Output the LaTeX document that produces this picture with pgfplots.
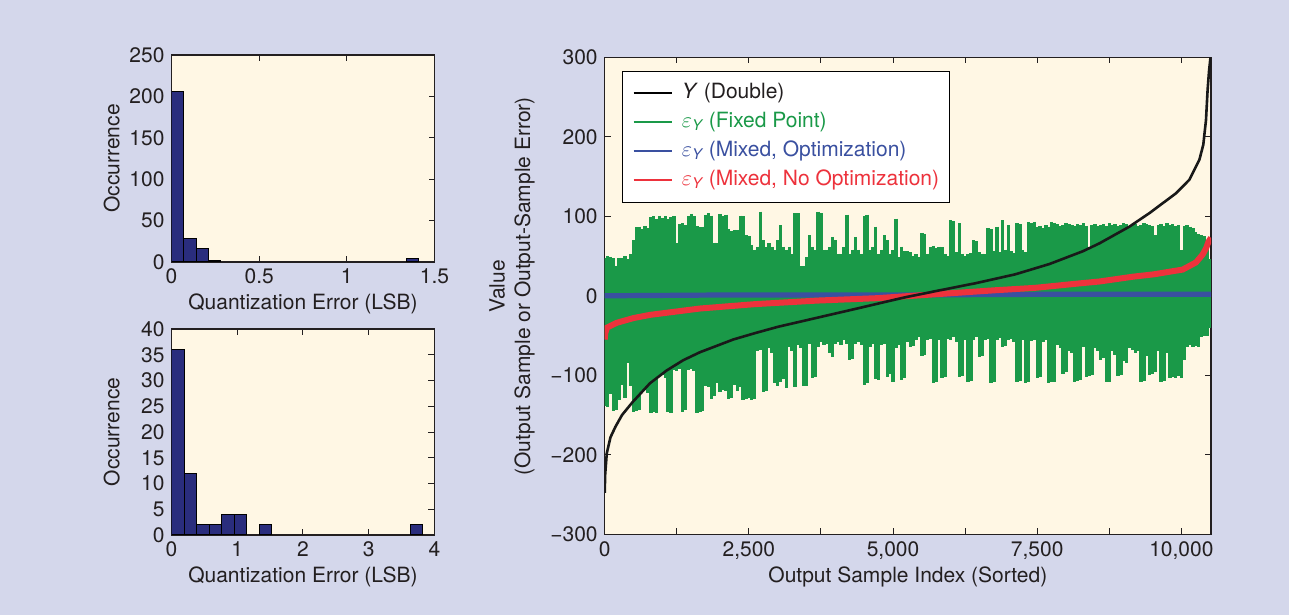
\documentclass[border=0pt]{standalone}
\usepackage{pgfplots}
\pgfplotsset{compat=1.18}
\usepackage{pgfplotstable}
\usepackage{fontspec}
\setmainfont{TeX Gyre Heros}

\definecolor{bglav}{RGB}{212,215,235}
\definecolor{cream}{RGB}{255,247,228}
\definecolor{navy}{RGB}{42,45,125}
\definecolor{fgreen}{RGB}{26,153,72}
\definecolor{mblue}{RGB}{58,80,160}
\definecolor{mred}{RGB}{237,50,60}
\definecolor{txt}{RGB}{35,31,32}

\pgfplotsset{
  matlab/.style={
    scale only axis, anchor=south west,
    axis background/.style={fill=cream},
    axis line style={line width=0.6pt, txt},
    tick style={line width=0.5pt, txt},
    major tick length=3pt, tick align=inside, tick pos=both,
    font=\fontsize{10.5}{12.6}\selectfont,
    /pgf/number format/assume math mode=true,
    tick label style={text=txt}, label style={text=txt},
  },
}

% fixed point error band: upper and lower edge every 50 samples
\pgfplotstableread{
x top bot
0 48 -139
50 50 -140
100 49 -124
150 47 -145
200 38 -144
250 48 -131
300 47 -112
350 50 -128
400 46 -85
450 52 -114
500 70 -146
550 86 -145
600 87 -144
650 84 -120
700 88 -119
750 85 -122
800 99 -147
850 100 -146
900 97 -148
950 101 -101
1000 98 -100
1050 100 -104
1100 96 -146
1150 99 -147
1200 100 -93
1250 66 -95
1300 90 -92
1350 91 -146
1400 89 -144
1450 101 -93
1500 103 -92
1550 100 -95
1600 88 -147
1650 86 -146
1700 87 -145
1750 102 -113
1800 104 -115
1850 101 -130
1900 67 -126
1950 66 -110
2000 103 -121
2050 100 -118
2100 102 -120
2150 84 -130
2200 82 -128
2250 83 -112
2300 83 -120
2350 101 -115
2400 100 -131
2450 76 -130
2500 75 -128
2550 64 -131
2600 58 -130
2650 62 -70
2700 106 -68
2750 70 -121
2800 62 -120
2850 66 -66
2900 62 -72
2950 58 -110
3000 70 -114
3050 89 -108
3100 62 -105
3150 58 -116
3200 62 -64
3250 53 -70
3300 104 -115
3350 104 -62
3400 37 -66
3450 37 -114
3500 49 -113
3550 76 -60
3600 62 -103
3650 58 -102
3700 106 -64
3750 104 -58
3800 58 -62
3850 58 -60
3900 62 -72
3950 74 -77
4000 70 -60
4050 53 -58
4100 53 -62
4150 62 -56
4200 102 -60
4250 53 -81
4300 58 -80
4350 74 -60
4400 58 -58
4450 53 -62
4500 100 -112
4550 102 -110
4600 58 -64
4650 62 -60
4700 87 -105
4750 53 -106
4800 58 -62
4850 76 -60
4900 70 -102
4950 53 -98
5000 58 -108
5050 97 -66
5100 49 -62
5150 62 -106
5200 56 -104
5250 56 -58
5300 55 -64
5350 50 -63
5400 52 -55
5450 49 -52
5500 79 -76
5550 78 -75
5600 53 -55
5650 62 -54
5700 63 -110
5750 60 -108
5800 62 -56
5850 61 -104
5900 52 -102
5950 50 -54
6000 95 -56
6050 94 -52
6100 55 -58
6150 91 -102
6200 53 -101
6250 50 -55
6300 52 -108
6350 54 -107
6400 70 -55
6450 69 -52
6500 55 -77
6550 53 -76
6600 52 -56
6650 85 -54
6700 84 -110
6750 56 -109
6800 87 -55
6850 55 -53
6900 95 -64
6950 58 -63
7000 89 -56
7050 56 -54
7100 54 -58
7150 91 -108
7200 90 -107
7250 57 -56
7300 55 -110
7350 93 -109
7400 92 -57
7450 93 -55
7500 86 -104
7550 88 -102
7600 85 -58
7650 89 -56
7700 87 -110
7750 93 -109
7800 92 -108
7850 90 -62
7900 88 -66
7950 89 -98
8000 91 -96
8050 90 -70
8100 89 -72
8150 88 -108
8200 90 -107
8250 89 -106
8300 91 -64
8350 88 -102
8400 62 -101
8450 89 -100
8500 90 -66
8550 88 -70
8600 89 -81
8650 90 -78
8700 88 -108
8750 91 -109
8800 89 -70
8850 90 -74
8900 88 -101
8950 89 -100
9000 91 -82
9050 90 -84
9100 88 -66
9150 89 -68
9200 90 -72
9250 88 -70
9300 89 -108
9350 91 -107
9400 90 -76
9450 89 -99
9500 88 -98
9550 76 -96
9600 89 -70
9650 90 -108
9700 88 -107
9750 91 -72
9800 89 -103
9850 90 -102
9900 88 -104
9950 89 -101
10000 58 -103
10050 88 -81
10100 89 -64
10150 87 -62
10200 85 -64
10250 80 -63
10300 78 -64
10350 76 -52
10400 75 -51
10450 70 -50
10480 46 -40
}\fixederr

\pgfplotstableread{
x y
0 -248
8 -225
36 -198
100 -178
184 -165
300 -150
480 -134
785 -110
1073 -94
1362 -81
1651 -71
1940 -63
2228 -55
2604 -47
3004 -39
3690 -27.5
4376 -16
4993 -5.5
5202 -2
5748 6
6443 16
7119 27
7713 40
8290 56
8580 66
9099 87
9446 104
9908 129
10139 146
10312 171
10380 190
10427 221
10455 259
10480 283
10505 300
}\ydouble

\pgfplotstableread{
x y
0 -55
10 -47
40 -40
207 -34
500 -28
785 -24
1651 -16
2604 -10.5
3690 -6
4719 -3
5748 2
6776 7
7462 10
8148 15
8580 18
9157 24
9520 27
10023 33
10254 42
10369 52
10430 60
10470 68
10514 73
}\mixednoopt

\pgfplotstableread{
x y
0 0
2000 1
5000 1
8000 2
10514 2
}\mixedopt

\begin{document}
\begin{tikzpicture}
\useasboundingbox (0,0) rectangle (644.5pt,307.5pt);
\fill[bglav] (0,0) rectangle (644.5pt,307.5pt);

% top-left histogram
\begin{axis}[matlab,
    at={(85.75pt,176.5pt)}, width=131.5pt, height=103.5pt,
    xmin=0, xmax=1.5, ymin=0, ymax=250,
    xtick={0,0.5,1,1.5}, ytick={0,50,...,250},
    xlabel={Quantization Error (LSB)}, ylabel={Occurrence},
    xlabel style={at={(axis description cs:0.5,-0.203)}, anchor=center},
    ylabel style={at={(axis description cs:-0.227,0.5)}, anchor=center},
  ]
  \addplot[ybar, bar width=0.0705, bar shift=0pt, fill=navy, draw=black, line width=0.5pt]
    coordinates {(0.03525,206) (0.10575,28) (0.17625,16) (0.24675,2) (1.37475,4)};
\end{axis}

% bottom-left histogram
\begin{axis}[matlab,
    at={(85.75pt,40pt)}, width=131.5pt, height=103pt,
    xmin=0, xmax=4, ymin=0, ymax=40,
    xtick={0,1,2,3,4}, ytick={0,5,...,40},
    xlabel={Quantization Error (LSB)}, ylabel={Occurrence},
    xlabel style={at={(axis description cs:0.5,-0.204)}, anchor=center},
    ylabel style={at={(axis description cs:-0.227,0.5)}, anchor=center},
  ]
  \addplot[ybar, bar width=0.191, bar shift=0pt, fill=navy, draw=black, line width=0.5pt]
    coordinates {(0.0955,36) (0.2865,12) (0.4775,2) (0.6685,2) (0.8595,4) (1.0505,4) (1.4325,2) (3.7245,2)};
\end{axis}

% sorted output samples and errors
\begin{axis}[matlab,
    at={(302.35pt,40.35pt)}, width=303.15pt, height=238.5pt,
    xmin=0, xmax=10514, ymin=-300, ymax=300,
    scaled x ticks=false,
    xtick={0,1250,...,10000},
    xticklabels={0,,{2,500},,{5,000},,{7,500},,{10,000}},
    ytick={-300,-200,...,300},
    yticklabels={−300,−200,−100,0,100,200,300},
    xlabel={Output Sample Index (Sorted)},
    ylabel={Value\\(Output Sample or Output-Sample Error)},
    xlabel style={at={(axis description cs:0.5,-0.0895)}, anchor=center},
    ylabel style={at={(axis description cs:-0.153,0.52)}, anchor=center, align=center,
      font=\fontsize{10.5}{12.75}\selectfont},
    legend image code/.code={\draw[#1, line width=1.3pt] (0pt,0pt) -- (19pt,0pt);},
    legend style={at={(0.0285,0.972)}, anchor=north west, draw=black, fill=white,
      inner xsep=5pt, inner ysep=6pt, row sep=4.5pt, column sep=4.5pt,
      nodes={inner sep=0pt, text height=7.5pt, text depth=2.5pt},
      font=\fontsize{10.5}{12.6}\selectfont},
    legend cell align=left,
  ]
  \addlegendimage{black}
  \addlegendimage{fgreen}
  \addlegendimage{mblue}
  \addlegendimage{mred}
  \addlegendentry{\textcolor{txt}{\textit{Y} (Double)}}
  \addlegendentry{\textcolor{fgreen}{$\varepsilon$\textsubscript{\itshape Y} (Fixed Point)}}
  \addlegendentry{\textcolor{mblue}{$\varepsilon$\textsubscript{\itshape Y} (Mixed, Optimization)}}
  \addlegendentry{\textcolor{mred}{$\varepsilon$\textsubscript{\itshape Y} (Mixed, No Optimization)}}

  \addplot[forget plot, draw=none, mark=none,
    error bars/.cd, y dir=minus, y explicit, error mark=none,
    error bar style={draw=fgreen, line width=1.7pt, line cap=butt}]
    table[x=x, y=top, y error minus expr=\thisrow{top}-\thisrow{bot}] {\fixederr};
  \addplot[forget plot, mblue, line width=2.6pt] table[x=x, y=y] {\mixedopt};
  \addplot[forget plot, mred, line width=3pt] table[x=x, y=y] {\mixednoopt};
  \addplot[forget plot, black!90, line width=1.3pt, line join=round] table[x=x, y=y] {\ydouble};
\end{axis}
\end{tikzpicture}
\end{document}
